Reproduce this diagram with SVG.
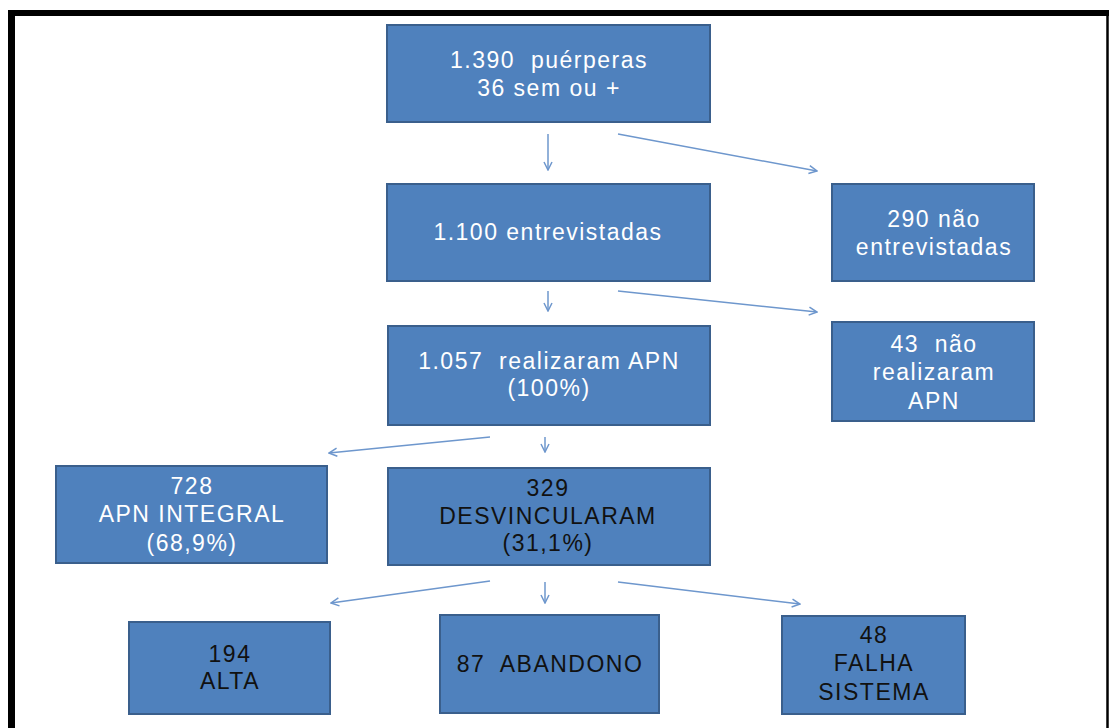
<svg xmlns="http://www.w3.org/2000/svg" width="1110" height="728" viewBox="0 0 1110 728">
<defs>
<style>
.box{fill:#4F81BD;stroke:#3A5F8C;stroke-width:2}
.w{font-family:"Liberation Sans","Open Sans",sans-serif;font-size:23px;letter-spacing:1.5px;fill:#FFFFFF;text-anchor:middle;white-space:pre}
.k{font-family:"Liberation Sans","Open Sans",sans-serif;font-size:23px;letter-spacing:1.5px;fill:#111111;text-anchor:middle;white-space:pre}
.c{stroke:#6E97CD;stroke-width:1.5;fill:none;marker-end:url(#ah)}
</style>
<marker id="ah" viewBox="0 0 10 10" refX="9" refY="5" markerWidth="10" markerHeight="10" markerUnits="userSpaceOnUse" orient="auto">
<path d="M1,1 L9,5 L1,9" fill="none" stroke="#6E97CD" stroke-width="1.5"/>
</marker>
</defs>
<rect width="1110" height="728" fill="#FFFFFF"/>
<g id="frame" stroke="#000000" fill="none">
<line x1="8" y1="13" x2="1109" y2="13" stroke-width="6"/>
<line x1="11.5" y1="10" x2="11.5" y2="728" stroke-width="7"/>
<line x1="1107.5" y1="10" x2="1107.5" y2="728" stroke-width="2.5"/>
</g>
<g id="connectors">
<line class="c" x1="548" y1="134" x2="548" y2="170"/>
<line class="c" x1="618" y1="134" x2="817" y2="171"/>
<line class="c" x1="548" y1="291" x2="548" y2="311"/>
<line class="c" x1="618" y1="291" x2="817" y2="312"/>
<line class="c" x1="490" y1="437" x2="329" y2="453"/>
<line class="c" x1="545" y1="437" x2="545" y2="452"/>
<line class="c" x1="490" y1="581" x2="331" y2="603"/>
<line class="c" x1="545" y1="582" x2="545" y2="603"/>
<line class="c" x1="618" y1="582" x2="800" y2="604"/>
</g>
<g id="n1"><rect class="box" x="387" y="25" width="323" height="97"/>
<text class="w" x="549" y="68" xml:space="preserve">1.390  puérperas</text><text class="w" x="549" y="96">36 sem ou +</text></g>
<g id="n2"><rect class="box" x="387" y="184" width="323" height="97"/>
<text class="w" x="548" y="240">1.100 entrevistadas</text></g>
<g id="n3"><rect class="box" x="832" y="184" width="202" height="97"/>
<text class="w" x="934" y="227">290 não</text><text class="w" x="934" y="255">entrevistadas</text></g>
<g id="n4"><rect class="box" x="388" y="326" width="322" height="99"/>
<text class="w" x="549" y="369" xml:space="preserve">1.057  realizaram APN</text><text class="w" x="549" y="396">(100%)</text></g>
<g id="n5"><rect class="box" x="832" y="322" width="202" height="99"/>
<text class="w" x="934" y="352" xml:space="preserve">43  não</text><text class="w" x="934" y="380">realizaram</text><text class="w" x="934" y="409">APN</text></g>
<g id="n6"><rect class="box" x="56" y="466" width="271" height="97"/>
<text class="w" x="192" y="494">728</text><text class="w" x="192" y="522">APN INTEGRAL</text><text class="w" x="192" y="551">(68,9%)</text></g>
<g id="n7"><rect class="box" x="388" y="468" width="322" height="97"/>
<text class="k" x="548" y="496">329</text><text class="k" x="548" y="524">DESVINCULARAM</text><text class="k" x="548" y="551">(31,1%)</text></g>
<g id="n8"><rect class="box" x="129" y="622" width="201" height="92"/>
<text class="k" x="230" y="662">194</text><text class="k" x="230" y="689">ALTA</text></g>
<g id="n9"><rect class="box" x="440" y="615" width="219" height="98"/>
<text class="k" x="550" y="672" xml:space="preserve">87  ABANDONO</text></g>
<g id="n10"><rect class="box" x="782" y="616" width="183" height="98"/>
<text class="k" x="874" y="643">48</text><text class="k" x="874" y="671">FALHA</text><text class="k" x="874" y="700">SISTEMA</text></g>
</svg>
